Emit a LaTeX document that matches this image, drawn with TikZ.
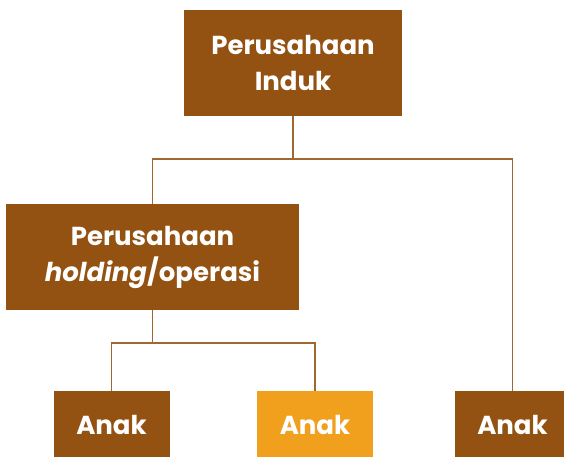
\documentclass[tikz,border=0pt]{standalone}
\usepackage{fontspec}
\setmainfont{Poppins}
\usetikzlibrary{positioning, calc}

\begin{document}
\begin{tikzpicture}[x=1pt, y=-1pt]
        % Warna
        \definecolor{boxbrown}{RGB}{147, 82, 17}
        \definecolor{boxorange}{RGB}{240, 160, 28}
        \definecolor{linebrown}{RGB}{160, 104, 46}

        \tikzset{
            unit/.style={fill=boxbrown, text=white, font=\bfseries\fontsize{26}{36}\selectfont,
                align=center, inner sep=0pt, minimum height=106pt},
            anak/.style={unit, minimum width=116pt, minimum height=68pt},
            conn/.style={draw=linebrown, line width=1.8pt}
        }

        \useasboundingbox (0,0) rectangle (564,457);

        % 1. Kotak-kotak
        \node[unit, minimum width=218pt] (induk) at (293, 63) {Perusahaan\\Induk};
        \node[unit, minimum width=293pt] (holding) at (152.5, 257) {Perusahaan\\\textit{holding}/operasi};
        \node[anak] (anakA) at (111.5, 425) {Anak};
        \node[anak, fill=boxorange] (anakB) at (315, 425) {Anak};
        \node[anak] (anakC) at (512.5, 425) {Anak};

        % 2. Garis penghubung
        \coordinate (busA) at (293, 159);
        \coordinate (busB) at (152.5, 343);
        \draw[conn] (induk.south) -- (busA);
        \draw[conn] (holding.north) |- (busA) -| (anakC.north);
        \draw[conn] (holding.south) -- (busB);
        \draw[conn] (anakA.north) |- (busB) -| (anakB.north);

    \end{tikzpicture}
\end{document}
